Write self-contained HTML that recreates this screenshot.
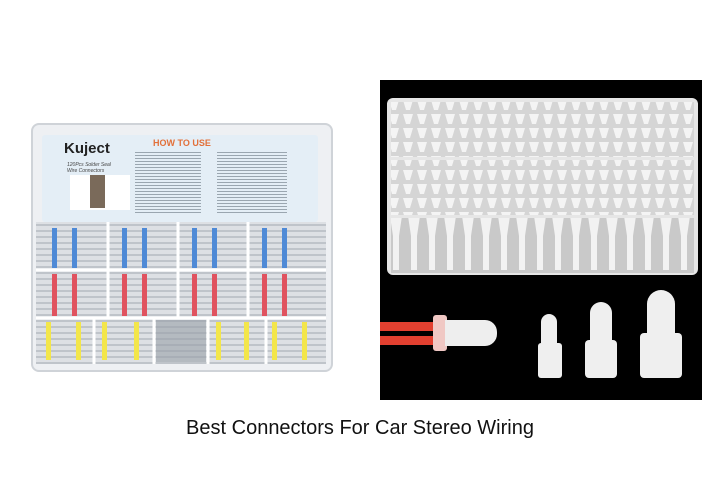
<!DOCTYPE html><html><head><style>
body{margin:0;width:720px;height:480px;background:#fff;position:relative;overflow:hidden;font-family:"Liberation Sans",sans-serif}
.a{position:absolute}
.cap{left:0;width:720px;top:417px;text-align:center;font-size:20px;color:#111}
.tube{position:absolute;height:3px;background:#c8ccd2;border-radius:1px}
</style></head><body>
<div class="a" style="left:31px;top:123px;width:298px;height:245px;background:#eef0f3;border:2px solid #cfd3d8;border-radius:8px"></div>
<div class="a" style="left:42px;top:135px;width:276px;height:87px;background:#e4eef6;border-radius:3px"></div>
<div class="a" style="left:64px;top:140px;font-size:15px;color:#222;font-weight:bold">Kuject</div>
<div class="a" style="left:153px;top:138px;font-size:9px;color:#e2703a;font-weight:bold">HOW TO USE</div>
<div class="a" style="left:67px;top:162px;font-size:5px;color:#444;font-style:italic">120Pcs Solder Seal<br>Wire Connectors</div>
<div class="a" style="left:70px;top:175px;width:60px;height:35px;background:#fff"><div class="a" style="left:20px;top:0;width:15px;height:33px;background:#7a6a5a"></div></div>
<div class="a" style="left:135px;top:150px;width:66px;height:65px;background:repeating-linear-gradient(#e4eef6 0 2px,#9aa6b0 2px 3px)"></div>
<div class="a" style="left:217px;top:150px;width:70px;height:65px;background:repeating-linear-gradient(#e4eef6 0 2px,#9aa6b0 2px 3px)"></div>
<svg class="a" style="left:36px;top:222px" width="290" height="142">
<defs>
<pattern id="pb" width="10" height="6" patternUnits="userSpaceOnUse"><rect width="10" height="6" fill="#dde0e4"/><rect y="2" width="10" height="2" fill="#bfc4ca"/></pattern>
</defs>
<rect width="290" height="142" fill="url(#pb)"/>
<g fill="#4f8ad6"><rect x="16" y="6" width="5" height="40"/><rect x="36" y="6" width="5" height="40"/><rect x="86" y="6" width="5" height="40"/><rect x="106" y="6" width="5" height="40"/><rect x="156" y="6" width="5" height="40"/><rect x="176" y="6" width="5" height="40"/><rect x="226" y="6" width="5" height="40"/><rect x="246" y="6" width="5" height="40"/></g>
<g fill="#e0535f"><rect x="16" y="52" width="5" height="42"/><rect x="36" y="52" width="5" height="42"/><rect x="86" y="52" width="5" height="42"/><rect x="106" y="52" width="5" height="42"/><rect x="156" y="52" width="5" height="42"/><rect x="176" y="52" width="5" height="42"/><rect x="226" y="52" width="5" height="42"/><rect x="246" y="52" width="5" height="42"/></g>
<g fill="#f3e64a"><rect x="10" y="100" width="5" height="38"/><rect x="40" y="100" width="5" height="38"/><rect x="66" y="100" width="5" height="38"/><rect x="98" y="100" width="5" height="38"/><rect x="180" y="100" width="5" height="38"/><rect x="208" y="100" width="5" height="38"/><rect x="236" y="100" width="5" height="38"/><rect x="266" y="100" width="5" height="38"/></g>
<rect x="120" y="98" width="50" height="42" fill="#9aa0a8" opacity=".6"/>
<g stroke="#fff" stroke-width="3"><line x1="72" y1="0" x2="72" y2="96"/><line x1="142" y1="0" x2="142" y2="96"/><line x1="212" y1="0" x2="212" y2="96"/><line x1="0" y1="48" x2="290" y2="48"/><line x1="0" y1="96" x2="290" y2="96"/><line x1="58" y1="96" x2="58" y2="142"/><line x1="118" y1="96" x2="118" y2="142"/><line x1="172" y1="96" x2="172" y2="142"/><line x1="230" y1="96" x2="230" y2="142"/></g>
</svg>
<div class="a" style="left:380px;top:80px;width:322px;height:320px;background:#000"></div>
<svg class="a" style="left:387px;top:98px" width="311" height="180">
<defs><pattern id="pw" width="14" height="14" patternUnits="userSpaceOnUse"><rect width="14" height="14" fill="#d5d5d5"/><path d="M2 2h10l-3 10h-4z" fill="#f4f4f4"/></pattern>
<pattern id="pw2" width="18" height="58" patternUnits="userSpaceOnUse"><rect width="18" height="58" fill="#c9c9c9"/><path d="M3 2h12l-3 20v34h-6v-34z" fill="#f2f2f2"/></pattern></defs>
<rect width="311" height="177" rx="6" fill="#e6e6e6"/>
<rect x="4" y="4" width="303" height="55" fill="url(#pw)"/>
<rect x="4" y="62" width="303" height="55" fill="url(#pw)"/>
<rect x="4" y="120" width="303" height="55" fill="url(#pw2)"/>
</svg>
<div class="a" style="left:380px;top:322px;width:55px;height:9px;background:#e24030"></div>
<div class="a" style="left:380px;top:336px;width:55px;height:9px;background:#e24030"></div>
<div class="a" style="left:433px;top:315px;width:14px;height:36px;background:#f0c8c4;border-radius:3px"></div>
<div class="a" style="left:445px;top:320px;width:52px;height:26px;background:#eee;border-radius:0 12px 12px 0"></div>
<div class="a" style="left:538px;top:343px;width:24px;height:35px;background:#efefef;border-radius:3px"></div>
<div class="a" style="left:541px;top:314px;width:16px;height:32px;background:#efefef;border-radius:8px 8px 0 0"></div>
<div class="a" style="left:585px;top:340px;width:32px;height:38px;background:#efefef;border-radius:4px"></div>
<div class="a" style="left:590px;top:302px;width:22px;height:42px;background:#efefef;border-radius:11px 11px 0 0"></div>
<div class="a" style="left:640px;top:333px;width:42px;height:45px;background:#efefef;border-radius:4px"></div>
<div class="a" style="left:647px;top:290px;width:28px;height:47px;background:#efefef;border-radius:14px 14px 0 0"></div>
<div class="a cap">Best Connectors For Car Stereo Wiring</div>
</body></html>
